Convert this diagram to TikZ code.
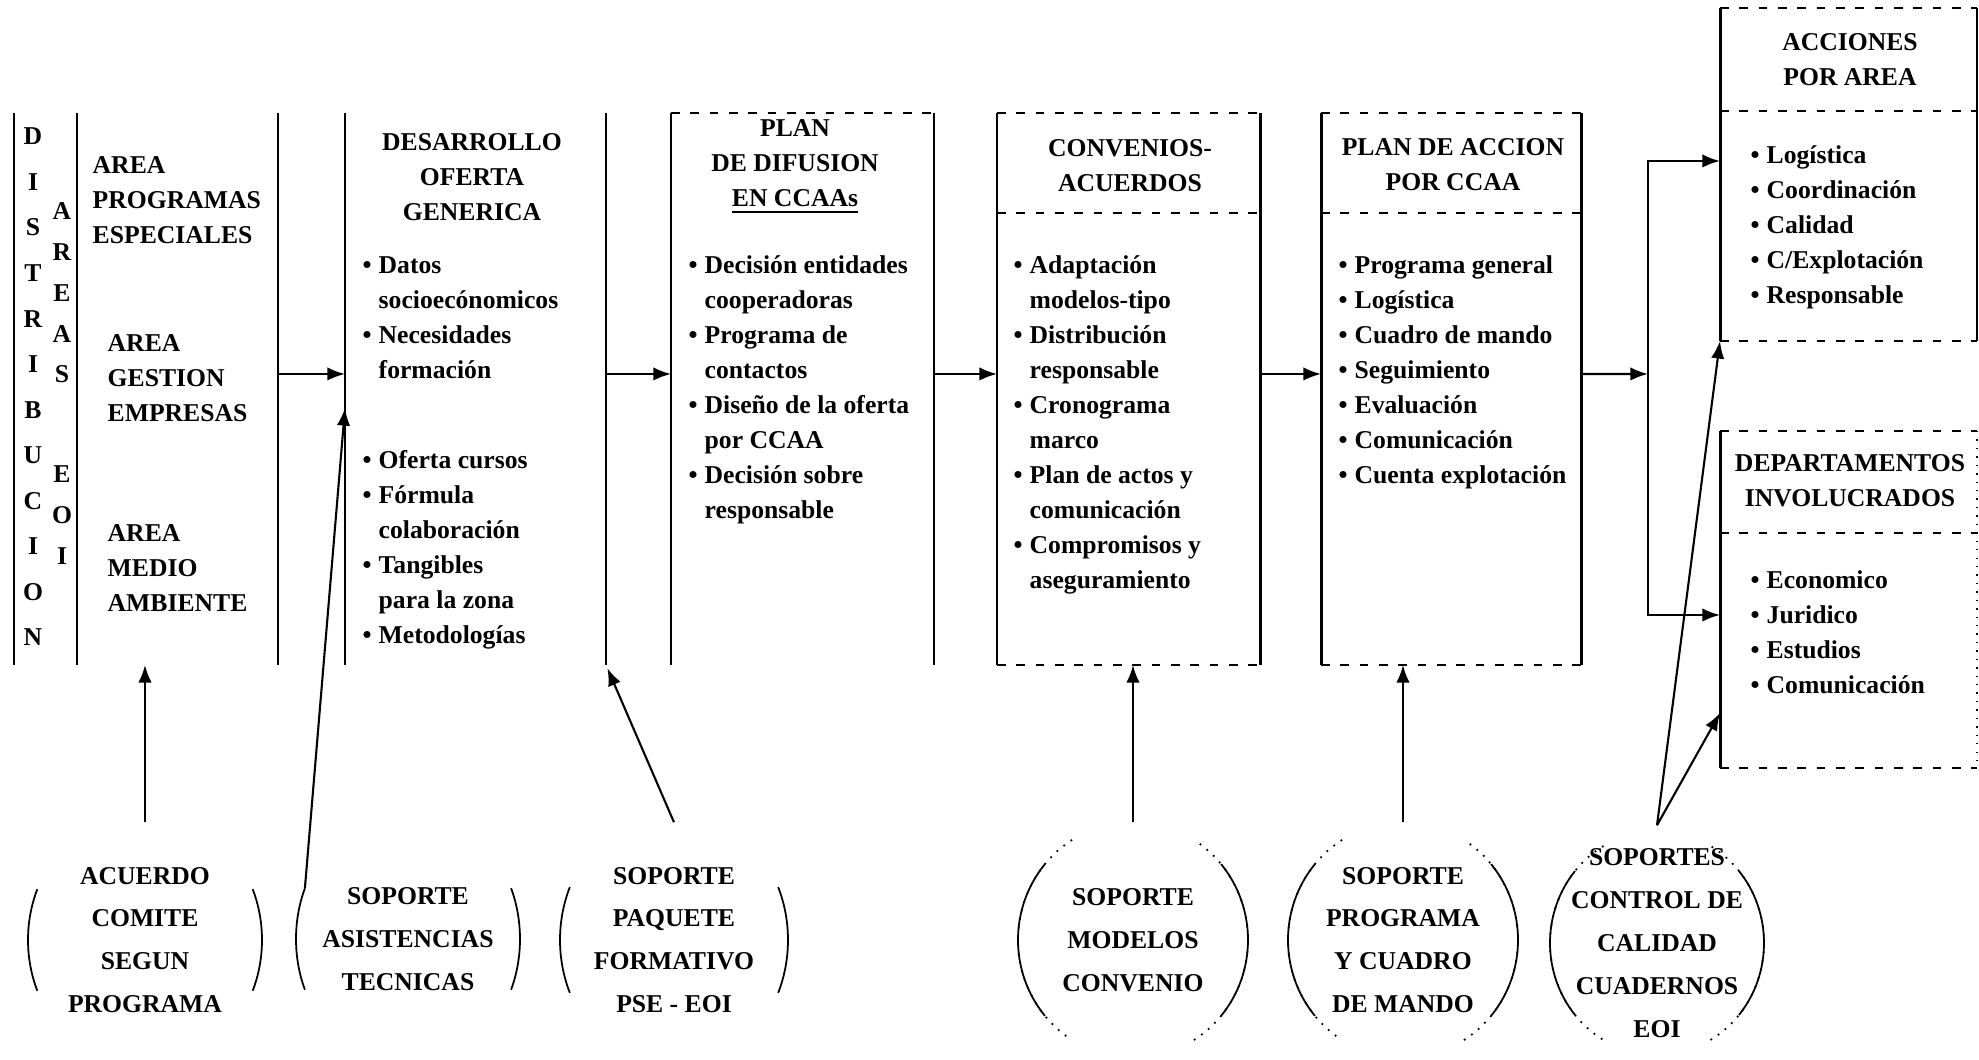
\documentclass[tikz,border=0pt]{standalone}
\usepackage{fontspec}
\setmainfont{Liberation Serif}
\usetikzlibrary{arrows.meta,positioning,calc}

% side arcs round a support node: node, x radius, y radius, half angle, style
\newcommand{\brackets}[5]{%
  \draw[#5] (#1.center) ++(180-#4:#2 and #3) arc[start angle=180-#4,end angle=180+#4,x radius=#2,y radius=#3];
  \draw[#5] (#1.center) ++(-#4:#2 and #3) arc[start angle=-#4,end angle=#4,x radius=#2,y radius=#3];
}

\tikzset{
  txt/.style={font=\fontsize{7.3}{9.96}\selectfont\bfseries, inner sep=0pt},
  hd/.style={txt, align=center},
  lst/.style={txt, anchor=north west},
  supnode/.style={font=\fontsize{7.3}{12.2}\selectfont\bfseries, align=center, inner sep=0pt, minimum height=2.34cm},
  colbox/.style={inner sep=0pt, outer sep=0pt, minimum height=5.52cm},
  side/.style={line width=0.85pt},
  dsh/.style={dash pattern=on 2.5pt off 3pt, line width=0.4pt},
  arr/.style={->, line width=0.6pt},
  brk/.style={line width=0.5pt},
}

\begin{document}
\begin{tikzpicture}[>={Latex[length=5pt,width=3.8pt]}]
  \useasboundingbox (0,0) rectangle (19.79,10.60);
  % columns
  \node[colbox, minimum width=0.63cm] (dist) at (0.455,6.71) {};
  \node[colbox, minimum width=2.01cm] (areas) at (1.775,6.71) {};
  \node[colbox, minimum width=2.61cm] (c2) at (4.755,6.71) {};
  \node[colbox, minimum width=2.63cm] (c3) at (8.025,6.71) {};
  \node[colbox, minimum width=2.63cm] (c4) at (11.285,6.71) {};
  \node[colbox, minimum width=2.60cm] (c5) at (14.51,6.71) {};
  \node[inner sep=0pt, outer sep=0pt, minimum width=2.57cm, minimum height=3.33cm] (acc) at (18.485,8.855) {};
  \node[inner sep=0pt, outer sep=0pt, minimum width=2.57cm, minimum height=3.37cm] (dep) at (18.485,4.605) {};
  \foreach \c in {dist,areas,c2,c3,c4,c5}{
    \draw[side] (\c.north west) -- (\c.south west);
    \draw[side] (\c.north east) -- (\c.south east);
  }
  \draw[side] (acc.north west) -- (acc.south west);
  \draw[side] (dep.north west) -- (dep.south west);
  % dashed edges
  \foreach \c in {c3,c4,c5}{
    \draw[dsh] (\c.north west) -- (\c.north east);
  }
  \foreach \c in {c4,c5}{
    \draw[dsh] (\c.south west) -- (\c.south east);
    \draw[dsh] ([yshift=-10mm]\c.north west) -- ([yshift=-10mm]\c.north east);
  }
  \draw[dsh] (acc.north west) -- (acc.north east);
  \draw[dsh] (acc.south west) -- (acc.south east);
  \draw[line width=0.5pt] (acc.north east) -- (acc.south east);
  \draw[dsh] ([yshift=-10.3mm]acc.north west) -- ([yshift=-10.3mm]acc.north east);
  \draw[dsh] (dep.north west) -- (dep.north east);
  \draw[dsh] (dep.south west) -- (dep.south east);
  \draw[dotted, line width=0.4pt] (dep.north east) -- (dep.south east);
  \draw[dsh] ([yshift=-10.2mm]dep.north west) -- ([yshift=-10.2mm]dep.north east);
  % first column
  \node[txt, align=center, font=\fontsize{7.3}{12.96}\selectfont\bfseries] (distlbl) at (0.33,6.73) {D\\I\\S\\T\\R\\I\\B\\U\\C\\I\\O\\N};
  \node[txt, align=center, font=\fontsize{7.3}{11.6}\selectfont\bfseries] (eoilbl) at (0.62,6.765) {A\\R\\E\\A\\S\\[16.8pt]E\\O\\I};
  \node[txt, align=left, anchor=west] (a1) at (0.92,8.60) {AREA\\PROGRAMAS\\ESPECIALES};
  \node[txt, align=left, anchor=west] (a2) at (1.07,6.82) {AREA\\GESTION\\EMPRESAS};
  \node[txt, align=left, anchor=west] (a3) at (1.07,4.92) {AREA\\MEDIO\\AMBIENTE};
  % headers
  \node[hd] (h2) at (4.72,8.83) {DESARROLLO\\OFERTA\\GENERICA};
  \node[hd] (h3) at (7.95,8.93) {PLAN\\DE DIFUSION\\\underline{EN CCAAs}};
  \node[hd] (h4) at (11.30,8.94) {CONVENIOS-\\ACUERDOS};
  \node[hd] (h5) at (14.53,8.95) {PLAN DE ACCION\\POR CCAA};
  \node[hd] (hacc) at (18.50,10.00) {ACCIONES\\POR AREA};
  \node[hd] (hdep) at (18.50,5.79) {DEPARTAMENTOS\\INVOLUCRADOS};
  % bullet lists
  \node[lst] (l2) at (3.62,8.12) {\begin{tabular}{@{}l@{\hspace{2pt}}l@{}}
    \textbullet & Datos\\ & socioecónomicos\\ \textbullet & Necesidades\\ & formación\\[15.7pt]
    \textbullet & Oferta cursos\\ \textbullet & Fórmula\\ & colaboración\\
    \textbullet & Tangibles\\ & para la zona\\ \textbullet & Metodologías
  \end{tabular}};
  \node[lst] (l3) at (6.88,8.12) {\begin{tabular}{@{}l@{\hspace{2pt}}l@{}}
    \textbullet & Decisión entidades\\ & cooperadoras\\ \textbullet & Programa de\\ & contactos\\
    \textbullet & Diseño de la oferta\\ & por CCAA\\ \textbullet & Decisión sobre\\ & responsable
  \end{tabular}};
  \node[lst] (l4) at (10.13,8.12) {\begin{tabular}{@{}l@{\hspace{2pt}}l@{}}
    \textbullet & Adaptación\\ & modelos-tipo\\ \textbullet & Distribución\\ & responsable\\
    \textbullet & Cronograma\\ & marco\\ \textbullet & Plan de actos y\\ & comunicación\\
    \textbullet & Compromisos y\\ & aseguramiento
  \end{tabular}};
  \node[lst] (l5) at (13.38,8.12) {\begin{tabular}{@{}l@{\hspace{2pt}}l@{}}
    \textbullet & Programa general\\ \textbullet & Logística\\ \textbullet & Cuadro de mando\\
    \textbullet & Seguimiento\\ \textbullet & Evaluación\\ \textbullet & Comunicación\\
    \textbullet & Cuenta explotación
  \end{tabular}};
  \node[lst] (lacc) at (17.50,9.22) {\begin{tabular}{@{}l@{\hspace{2pt}}l@{}}
    \textbullet & Logística\\ \textbullet & Coordinación\\ \textbullet & Calidad\\
    \textbullet & C/Explotación\\ \textbullet & Responsable
  \end{tabular}};
  \node[lst] (ldep) at (17.50,4.97) {\begin{tabular}{@{}l@{\hspace{2pt}}l@{}}
    \textbullet & Economico\\ \textbullet & Juridico\\ \textbullet & Estudios\\
    \textbullet & Comunicación
  \end{tabular}};
  % support nodes
  \node[supnode] (s1) at (1.45,1.20) {ACUERDO\\COMITE\\SEGUN\\PROGRAMA};
  \node[supnode] (s2) at (4.08,1.21) {SOPORTE\\ASISTENCIAS\\TECNICAS};
  \node[supnode] (s3) at (6.74,1.20) {SOPORTE\\PAQUETE\\FORMATIVO\\PSE - EOI};
  \node[supnode] (s4) at (11.33,1.20) {SOPORTE\\MODELOS\\CONVENIO};
  \node[supnode] (s5) at (14.03,1.20) {SOPORTE\\PROGRAMA\\Y CUADRO\\DE MANDO};
  \node[supnode] (s6) at (16.57,1.17) {SOPORTES\\CONTROL DE\\CALIDAD\\CUADERNOS\\EOI};
  \brackets{s1}{1.17}{1.3}{23}{brk}
  \brackets{s2}{1.12}{1.3}{23}{brk}
  \brackets{s3}{1.14}{1.3}{24}{brk}
  \brackets{s4}{1.15}{1.18}{40}{brk}
  \brackets{s4}{1.15}{1.18}{58}{brk, dotted}
  \brackets{s5}{1.15}{1.18}{40}{brk}
  \brackets{s5}{1.15}{1.18}{58}{brk, dotted}
  \brackets{s6}{1.07}{1.12}{40}{brk}
  \brackets{s6}{1.07}{1.12}{60}{brk, dotted}
  % flow arrows
  \draw[arr] ([yshift=1.5mm]areas.east) -- ([yshift=1.5mm]c2.west);
  \draw[arr] ([yshift=1.5mm]c2.east) -- ([yshift=1.5mm]c3.west);
  \draw[arr] ([yshift=1.5mm]c3.east) -- ([yshift=1.5mm]c4.west);
  \draw[arr] ([yshift=1.5mm]c4.east) -- ([yshift=1.5mm]c5.west);
  \coordinate (br) at (16.48,6.86);
  \draw[arr] ([yshift=1.5mm]c5.east) -- (br);
  \draw[arr] (br) |- ([yshift=1.35mm]acc.west);
  \draw[arr] (br) |- ([yshift=-1.55mm]dep.west);
  % support arrows
  \coordinate (s2a) at ($(s2.center)+(157:1.12 and 1.3)$);
  \draw[arr] (s1.north) -- (s1.north |- areas.south);
  \draw[arr] (s2a) -- ([yshift=-1.9mm]c2.west);
  \draw[arr, shorten >=1pt] (s3.north) -- (c2.south east);
  \draw[arr] (s4.north) -- (s4.north |- c4.south);
  \draw[arr] (s5.north) -- (s5.north |- c5.south);
  \draw[arr] (s6.north) -- (acc.south west);
  \draw[arr] (s6.north) -- ([yshift=5.5mm]dep.south west);
\end{tikzpicture}
\end{document}
